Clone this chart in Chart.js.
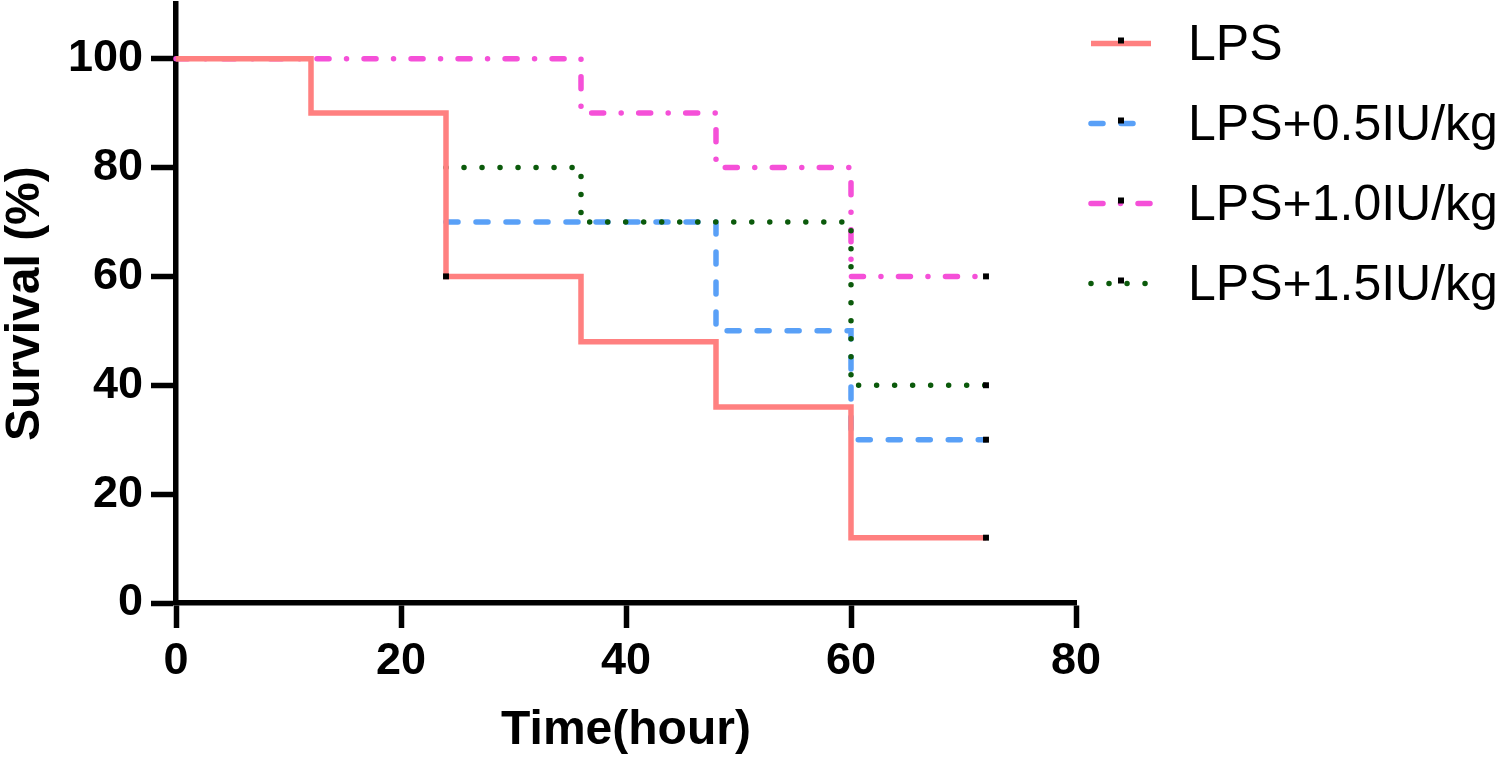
<!DOCTYPE html>
<html>
<head>
<meta charset="utf-8">
<script src="https://cdn.jsdelivr.net/npm/chart.js@4.4.0/dist/chart.umd.min.js"></script>
<style>
  html, body { margin: 0; padding: 0; background: #fff; }
  #wrap { width: 1495px; height: 763px; position: relative; }
</style>
</head>
<body>
<div id="wrap"><canvas id="km"></canvas></div>
<script>
// survival data (time in hours, survival in %)
const seriesNames = ["LPS", "LPS+0.5IU/kg", "LPS+1.0IU/kg", "LPS+1.5IU/kg"]

const lpsTimes = [0, 12, 24, 36, 48, 60, 72]
const lpsSurvival = [100, 90, 60, 48, 36, 12, 12]
const lpsCensored = [0, 0, 1, 0, 0, 0, 1]

const dose05Times = [0, 24, 48, 60, 72]
const dose05Survival = [100, 70, 50, 30, 30]
const dose05Censored = [0, 0, 0, 0, 1]

const dose10Times = [0, 36, 48, 60, 72]
const dose10Survival = [100, 90, 80, 60, 60]
const dose10Censored = [0, 0, 0, 0, 1]

const dose15Times = [0, 24, 36, 60, 72]
const dose15Survival = [100, 80, 70, 40, 40]
const dose15Censored = [0, 0, 0, 0, 1]

const xTicks = [0, 20, 40, 60, 80]
const yTicks = [0, 20, 40, 60, 80, 100]

Chart.defaults.font.family = '"Liberation Sans", Arial, sans-serif'
Chart.defaults.color = '#000'

// first step of 0.5 and 1.5 sits under the LPS curve in the figure
function makeSet(label, times, values, censored, color, dash, order, hideFirst) {
  return {
    label,
    data: times.map((t, k) => ({ x: t, y: values[k] })),
    stepped: 'before',
    borderColor: color,
    borderWidth: 5.5,
    borderDash: dash,
    borderCapStyle: dash.length ? 'round' : 'butt',
    borderJoinStyle: 'miter',
    pointStyle: 'rect',
    pointRadius: censored.map(c => c ? 4.2 : 0),
    pointHoverRadius: 0,
    pointBackgroundColor: '#000',
    pointBorderWidth: 0,
    fill: false,
    order,
    clip: false,
    segment: {
      borderColor: c => (hideFirst && c.p0DataIndex === 0) ? 'rgba(0,0,0,0)' : undefined
    }
  }
}

const datasets = [
  makeSet(seriesNames[0], lpsTimes, lpsSurvival, lpsCensored, '#FF8080', [], 0, false),
  makeSet(seriesNames[1], dose05Times, dose05Survival, dose05Censored, '#59A0F7', [12, 18], 3, true),
  makeSet(seriesNames[2], dose10Times, dose10Survival, dose10Censored, '#F550D8', [12, 17.5, 0.01, 17.5], 2, false),
  makeSet(seriesNames[3], dose15Times, dose15Survival, dose15Censored, '#0B5A0B', [0.01, 18], 1, true)
]

const sideLegend = {
  id: 'sideLegend',
  afterDraw(chart) {
    const ctx = chart.ctx
    chart.data.datasets.forEach((ds, i) => {
      const baseline = 60 + i * 80
      const ly = baseline - 16.5
      ctx.save()
      ctx.strokeStyle = ds.borderColor
      ctx.lineWidth = ds.borderWidth
      ctx.setLineDash(ds.borderDash)
      ctx.lineCap = ds.borderCapStyle
      ctx.beginPath()
      ctx.moveTo(1091, ly)
      ctx.lineTo(1151, ly)
      ctx.stroke()
      ctx.fillStyle = '#000'
      ctx.fillRect(1118, ly - 6, 6, 6)
      ctx.font = '50px "Liberation Sans", Arial, sans-serif'
      ctx.textBaseline = 'alphabetic'
      ctx.textAlign = 'left'
      ctx.fillText(ds.label, 1188, baseline)
      ctx.restore()
    })
  }
}

new Chart(document.getElementById('km'), {
  type: 'line',
  data: { datasets },
  plugins: [sideLegend],
  options: {
    responsive: true,
    maintainAspectRatio: false,
    animation: false,
    layout: { padding: { top: 3, right: 419, bottom: 0, left: 0 } },
    plugins: { legend: { display: false }, tooltip: { enabled: false } },
    scales: {
      x: {
        type: 'linear',
        min: 0, max: 80,
        border: { display: true, width: 5.5, color: '#000' },
        grid: { drawOnChartArea: false, drawTicks: true, tickLength: 25, tickWidth: 5.5, tickColor: '#000' },
        ticks: { stepSize: 20, padding: 7, font: { size: 45, weight: 'bold' }, color: '#000' },
        afterBuildTicks: s => { s.ticks = xTicks.map(v => ({ value: v })) },
        afterFit: s => { s.height = 160; s.paddingLeft = 0; s.paddingRight = 0 },
        title: { display: true, text: 'Time(hour)', font: { size: 48, weight: 'bold', lineHeight: 1 }, padding: { top: 0, bottom: 8 }, color: '#000' }
      },
      y: {
        type: 'linear',
        min: 0, max: 110,
        border: { display: true, width: 5.5, color: '#000' },
        grid: { drawOnChartArea: false, drawTicks: true, tickLength: 25, tickWidth: 5.5, tickColor: '#000' },
        ticks: { stepSize: 20, padding: 8, font: { size: 45, weight: 'bold' }, color: '#000' },
        afterBuildTicks: s => { s.ticks = yTicks.map(v => ({ value: v })) },
        afterFit: s => { s.width = 176; s.paddingTop = 0; s.paddingBottom = 0 },
        title: { display: true, text: 'Survival (%)', font: { size: 48, weight: 'bold', lineHeight: 1 }, padding: { top: 2, bottom: 0 }, color: '#000' }
      }
    }
  }
})
</script>
</body>
</html>
